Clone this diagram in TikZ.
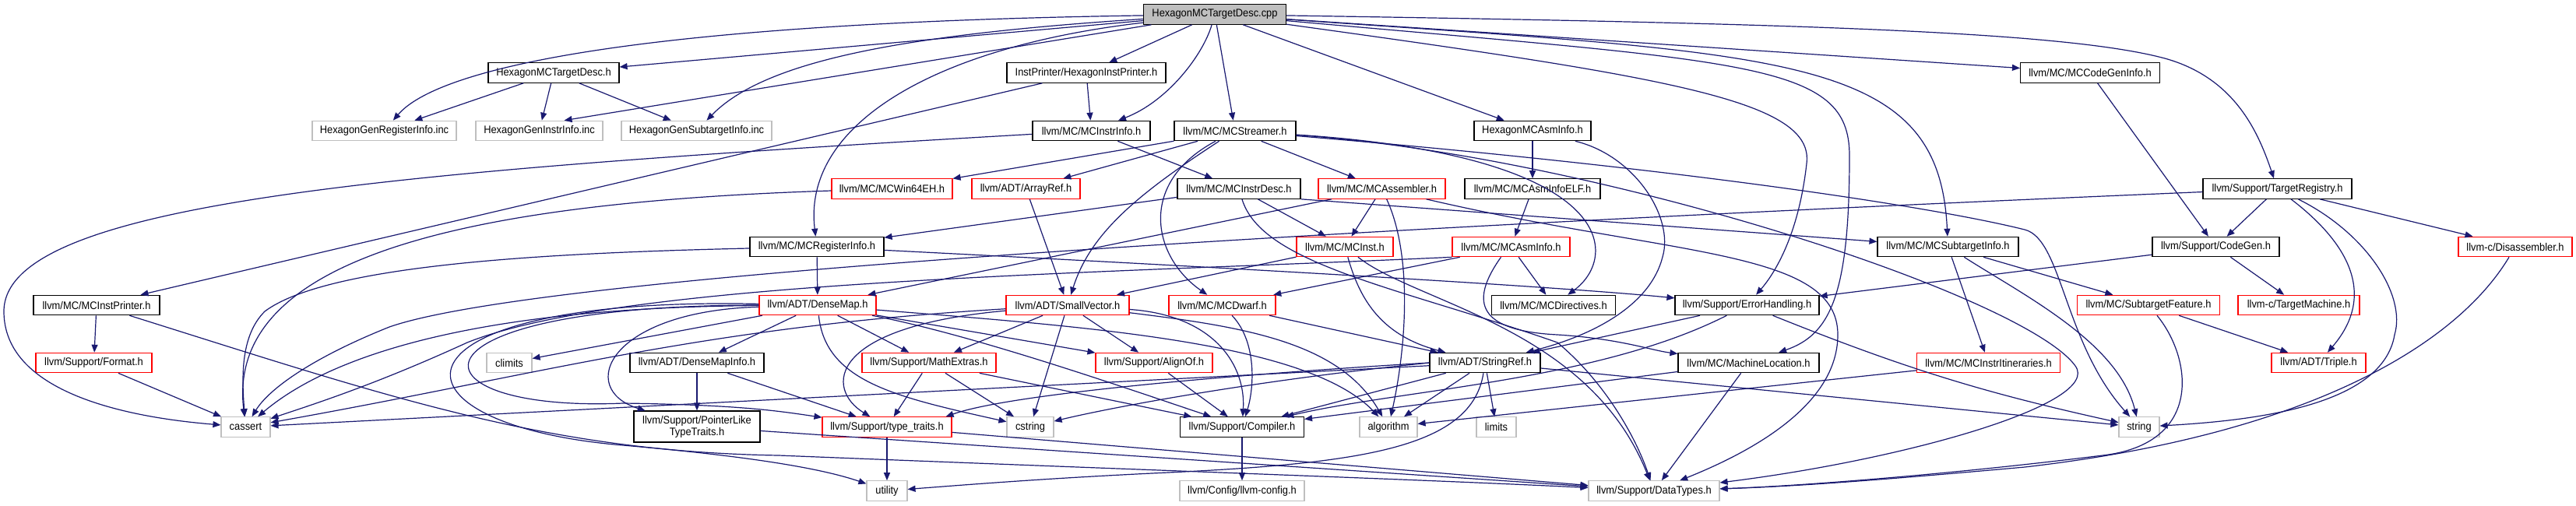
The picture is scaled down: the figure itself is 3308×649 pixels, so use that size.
\documentclass[tikz,border=0pt]{standalone}
\usepackage{fontspec}
\setmainfont{Liberation Sans}[FakeStretch=0.92]
\usetikzlibrary{arrows.meta}
\definecolor{edgeblue}{HTML}{191970}
\definecolor{graybd}{HTML}{BFBFBF}
\begin{document}
\begin{tikzpicture}[x=1pt,y=-1pt,
  box/.style={draw=black, line width=1.1pt, fill=white, minimum height=25.5pt, inner xsep=2pt, inner ysep=0pt, font=\fontsize{14}{15}\selectfont},
  redbox/.style={box, draw=red},
  graybox/.style={box, draw=graybd},
  edge/.style={draw=edgeblue, line width=1.2pt, -{Triangle[length=10pt,width=8pt]}}
]
\fill[white] (0,0) rectangle (3308,649);
\useasboundingbox (0,0) rectangle (3308,649);

% row 0
\node[box, fill=graybd, minimum width=183pt] (cpp) at (1560,18.5) {HexagonMCTargetDesc.cpp};
% row 1
\node[box, minimum width=168pt] (HexMCTDh) at (711,93.5) {HexagonMCTargetDesc.h};
\node[box, minimum width=204pt] (InstPrinter) at (1395,93.5) {InstPrinter/HexagonInstPrinter.h};
\node[box, minimum width=179pt] (MCCodeGenInfo) at (2684,93.5) {llvm/MC/MCCodeGenInfo.h};
% row 2
\node[graybox, minimum width=185pt] (GenReg) at (493.5,168) {HexagonGenRegisterInfo.inc};
\node[graybox, minimum width=163pt] (GenInstr) at (692.5,168) {HexagonGenInstrInfo.inc};
\node[graybox, minimum width=193pt] (GenSub) at (894.5,168) {HexagonGenSubtargetInfo.inc};
\node[box, minimum width=151pt] (MCInstrInfo) at (1401.5,168) {llvm/MC/MCInstrInfo.h};
\node[box, minimum width=156pt] (MCStreamer) at (1586,168) {llvm/MC/MCStreamer.h};
\node[box, minimum width=150pt] (HexMCAsmInfo) at (1968,168) {HexagonMCAsmInfo.h};
% row 3
\node[redbox, minimum width=155pt] (MCWin64EH) at (1145.5,242.5) {llvm/MC/MCWin64EH.h};
\node[redbox, minimum width=139pt] (ArrayRef) at (1317.5,242.5) {llvm/ADT/ArrayRef.h};
\node[box, minimum width=158pt] (MCInstrDesc) at (1591,242.5) {llvm/MC/MCInstrDesc.h};
\node[redbox, minimum width=163pt] (MCAssembler) at (1774.5,242.5) {llvm/MC/MCAssembler.h};
\node[box, minimum width=174pt] (MCAsmInfoELF) at (1968,242.5) {llvm/MC/MCAsmInfoELF.h};
\node[box, minimum width=191pt] (TargetRegistry) at (2924.5,242.5) {llvm/Support/TargetRegistry.h};
% row 4
\node[box, minimum width=172pt] (MCRegisterInfo) at (1049,317) {llvm/MC/MCRegisterInfo.h};
\node[redbox, minimum width=124pt] (MCInst) at (1727,317) {llvm/MC/MCInst.h};
\node[redbox, minimum width=151pt] (MCAsmInfo) at (1940.5,317) {llvm/MC/MCAsmInfo.h};
\node[box, minimum width=181pt] (MCSubtargetInfo) at (2501.5,317) {llvm/MC/MCSubtargetInfo.h};
\node[box, minimum width=163pt] (CodeGen) at (2845.5,317) {llvm/Support/CodeGen.h};
\node[redbox, minimum width=146pt] (Disassembler) at (3230,317) {llvm-c/Disassembler.h};
% row 5
\node[box, minimum width=162pt] (MCInstPrinter) at (124,392) {llvm/MC/MCInstPrinter.h};
\node[redbox, minimum width=150pt] (DenseMap) at (1050,392) {llvm/ADT/DenseMap.h};
\node[redbox, minimum width=158pt] (SmallVector) at (1371,392) {llvm/ADT/SmallVector.h};
\node[redbox, minimum width=137pt] (MCDwarf) at (1569.5,392) {llvm/MC/MCDwarf.h};
\node[box, minimum width=159pt] (MCDirectives) at (1995,392) {llvm/MC/MCDirectives.h};
\node[box, minimum width=185pt] (ErrorHandling) at (2243.5,392) {llvm/Support/ErrorHandling.h};
\node[redbox, minimum width=183pt] (SubtargetFeature) at (2759,392) {llvm/MC/SubtargetFeature.h};
\node[redbox, minimum width=156pt] (TargetMachine) at (2952,392) {llvm-c/TargetMachine.h};
% row 6
\node[redbox, minimum width=149pt] (Format) at (120.5,466) {llvm/Support/Format.h};
\node[graybox, minimum width=58pt] (climits) at (654,466) {climits};
\node[box, minimum width=172pt] (DenseMapInfo) at (895,466) {llvm/ADT/DenseMapInfo.h};
\node[redbox, minimum width=172pt] (MathExtras) at (1193,466) {llvm/Support/MathExtras.h};
\node[redbox, minimum width=150pt] (AlignOf) at (1482,466) {llvm/Support/AlignOf.h};
\node[box, minimum width=142pt] (StringRef) at (1907,466) {llvm/ADT/StringRef.h};
\node[box, minimum width=181pt] (MachineLocation) at (2245.5,466) {llvm/MC/MachineLocation.h};
\node[redbox, minimum width=184pt] (MCInstrItineraries) at (2553.5,466) {llvm/MC/MCInstrItineraries.h};
\node[redbox, minimum width=121pt] (Triple) at (2977.5,466) {llvm/ADT/Triple.h};
% row 7
\node[graybox, minimum width=63pt] (cassert) at (315.5,548.5) {cassert};
\node[box, minimum width=162pt, minimum height=40pt, align=center] (PointerLike) at (895,548) {llvm/Support/PointerLike\\TypeTraits.h};
\node[redbox, minimum width=166pt] (typetraits) at (1139,548.5) {llvm/Support/type\_traits.h};
\node[graybox, minimum width=60pt] (cstring) at (1323,548.5) {cstring};
\node[box, minimum width=159pt] (Compiler) at (1595,548.5) {llvm/Support/Compiler.h};
\node[graybox, minimum width=74pt] (algorithm) at (1783,548.5) {algorithm};
\node[graybox, minimum width=51pt] (limits) at (1921.5,548.5) {limits};
\node[graybox, minimum width=52pt] (string) at (2747,548.5) {string};
% row 8
\node[graybox, minimum width=52pt] (utility) at (1139,630.5) {utility};
\node[graybox, minimum width=160pt] (llvmconfig) at (1595,630.5) {llvm/Config/llvm-config.h};
\node[graybox, minimum width=168pt] (DataTypes) at (2124,630.5) {llvm/Support/DataTypes.h};

% ---- edges from cpp
\draw[edge] (cpp) -- (HexMCTDh);
\draw[edge] (cpp) .. controls (800,30) and (560,90) .. (GenReg);
\draw[edge] (cpp) -- ([xshift=32pt]GenInstr.north);
\draw[edge] (cpp) .. controls (1150,45) and (980,80) .. (GenSub);
\draw[edge] (cpp) -- (InstPrinter);
\draw[edge] (cpp) .. controls (1545,70) and (1500,130) .. (MCInstrInfo);
\draw[edge] (cpp) -- (MCStreamer);
\draw[edge] (cpp) .. controls (1200,60) and (1030,160) .. (MCRegisterInfo);
\draw[edge] (cpp) -- (HexMCAsmInfo);
\draw[edge] (cpp) -- (MCCodeGenInfo);
\draw[edge] (cpp) .. controls (2300,30) and (2650,40) .. (2780,75) .. controls (2870,100) and (2900,170) .. (TargetRegistry);
\draw[edge] (cpp) .. controls (2300,70) and (2490,70) .. (MCSubtargetInfo);
\draw[edge] (cpp) .. controls (2250,80) and (2375,80) .. (2375,200) .. controls (2375,380) and (2350,430) .. (MachineLocation);
\draw[edge] (cpp) .. controls (2150,100) and (2330,130) .. (2320,210) .. controls (2310,300) and (2280,350) .. (ErrorHandling);

% ---- HexagonMCTargetDesc.h
\draw[edge] (HexMCTDh) -- (GenReg);
\draw[edge] (HexMCTDh) -- (GenInstr);
\draw[edge] (HexMCTDh) -- (GenSub);

% ---- InstPrinter
\draw[edge] (InstPrinter) -- (MCInstPrinter);
\draw[edge] (InstPrinter) -- (MCInstrInfo);

% ---- MCInstrInfo
\draw[edge] (MCInstrInfo) -- (MCInstrDesc);
\draw[edge] (MCInstrInfo) .. controls (500,220) and (5,260) .. (5,400) .. controls (5,500) and (150,535) .. (cassert);

% ---- MCStreamer
\draw[edge] (MCStreamer) -- (MCWin64EH);
\draw[edge] (MCStreamer) -- (ArrayRef);
\draw[edge] (MCStreamer) .. controls (1460,250) and (1400,300) .. (SmallVector);
\draw[edge] (MCStreamer) .. controls (1460,235) and (1480,330) .. (MCDwarf);
\draw[edge] (MCStreamer) -- (MCAssembler);
\draw[edge] (MCStreamer) .. controls (2080,200) and (2080,330) .. (MCDirectives);
\draw[edge] (MCStreamer) .. controls (2050,200) and (2600,380) .. (2665,470) .. controls (2700,518) and (2450,590) .. (DataTypes);
\draw[edge] (MCStreamer) .. controls (2150,215) and (2480,265) .. (2600,295) .. controls (2648,307) and (2650,440) .. (string);

% ---- HexagonMCAsmInfo.h
\draw[edge] (HexMCAsmInfo) -- (MCAsmInfoELF);
\draw[edge] (HexMCAsmInfo) .. controls (2100,200) and (2150,280) .. (2135,330) .. controls (2120,390) and (2050,430) .. (StringRef);

% ---- MCCodeGenInfo / TargetRegistry
\draw[edge] (MCCodeGenInfo) -- (CodeGen);
\draw[edge] (TargetRegistry) -- (CodeGen);
\draw[edge] (TargetRegistry) -- (Disassembler);
\draw[edge] (TargetRegistry) .. controls (3000,300) and (3060,370) .. (Triple);
\draw[edge] (TargetRegistry) .. controls (3040,300) and (3090,380) .. (3075,430) .. controls (3060,520) and (2900,540) .. (string);
\draw[edge] (TargetRegistry) .. controls (1800,290) and (700,350) .. (500,420) .. controls (400,460) and (345,500) .. (cassert);

% ---- row 3
\draw[edge] (MCWin64EH) .. controls (600,260) and (290,330) .. (cassert);
\draw[edge] (ArrayRef) -- (SmallVector);
\draw[edge] (MCInstrDesc) -- (MCRegisterInfo);
\draw[edge] (MCInstrDesc) -- (MCInst);
\draw[edge] (MCInstrDesc.south east) -- (MCSubtargetInfo);
\draw[edge] (MCInstrDesc) .. controls (1620,340) and (1800,370) .. (2000,440) .. controls (2060,490) and (2100,560) .. (DataTypes);
\draw[edge] (MCAssembler) -- (DenseMap);
\draw[edge] (MCAssembler) -- (MCInst);
\draw[edge] (MCAssembler) .. controls (1815,330) and (1805,450) .. (algorithm);
\draw[edge] (MCAssembler) .. controls (2150,330) and (2360,320) .. (2360,430) .. controls (2360,520) and (2250,580) .. (DataTypes);
\draw[edge] (MCAsmInfoELF) -- (MCAsmInfo);

% ---- row 4
\draw[edge] (MCRegisterInfo) -- (DenseMap);
\draw[edge] (MCRegisterInfo) .. controls (1600,345) and (2000,368) .. (ErrorHandling);
\draw[edge] (MCRegisterInfo) .. controls (700,325) and (420,340) .. (340,400) .. controls (310,430) and (310,480) .. (cassert);
\draw[edge] (MCInst) -- (SmallVector);
\draw[edge] (MCInst) .. controls (1745,380) and (1770,430) .. (StringRef);
\draw[edge] (MCInst) .. controls (1820,390) and (2040,420) .. (DataTypes);
\draw[edge] (MCAsmInfo) -- (MCDwarf);
\draw[edge] (MCAsmInfo) -- (MCDirectives);
\draw[edge] ([xshift=-13pt]MCAsmInfo.south) .. controls (1885,390) and (1900,425) .. (2000,430) .. controls (2080,435) and (2120,450) .. (MachineLocation);
\draw[edge] (MCAsmInfo.south west) .. controls (1400,352) and (800,360) .. (600,440) .. controls (480,495) and (400,520) .. (cassert);
\draw[edge] (MCSubtargetInfo) -- (SubtargetFeature);
\draw[edge] (MCSubtargetInfo) -- (MCInstrItineraries);
\draw[edge] (MCSubtargetInfo) .. controls (2600,380) and (2720,440) .. (string);
\draw[edge] (CodeGen) -- (TargetMachine);
\draw[edge] (CodeGen) -- (ErrorHandling);
\draw[edge] (Disassembler) .. controls (3150,450) and (2950,560) .. (2600,600) .. controls (2400,618) and (2300,625) .. (DataTypes);

% ---- row 5
\draw[edge] (MCInstPrinter) -- (Format);
\draw[edge] (MCInstPrinter) .. controls (500,510) and (700,580) .. (1000,585) .. controls (1500,605) and (1800,615) .. (DataTypes);
\draw[edge] (DenseMap) -- (climits);
\draw[edge] (DenseMap) -- (DenseMapInfo);
\draw[edge] (DenseMap) -- (MathExtras);
\draw[edge] (DenseMap) -- (AlignOf);
\draw[edge] (DenseMap) .. controls (500,392) and (520,530) .. (800,518) .. controls (950,520) and (1000,528) .. (typetraits);
\draw[edge] (DenseMap) .. controls (780,400) and (740,500) .. (PointerLike);
\draw[edge] (DenseMap) .. controls (480,380) and (480,545) .. (800,572) .. controls (950,585) and (1050,600) .. (utility);
\draw[edge] (DenseMap) .. controls (600,395) and (420,460) .. (cassert);
\draw[edge] (DenseMap) .. controls (1060,490) and (1150,510) .. (cstring);
\draw[edge] (DenseMap) .. controls (1250,430) and (1450,500) .. (Compiler);
\draw[edge] (DenseMap) .. controls (1400,420) and (1680,440) .. (algorithm);
\draw[edge] (SmallVector) -- (MathExtras);
\draw[edge] (SmallVector) -- (AlignOf);
\draw[edge] (SmallVector) -- (cstring);
\draw[edge] (SmallVector) .. controls (1560,405) and (1600,470) .. (Compiler);
\draw[edge] (SmallVector) .. controls (1060,420) and (1060,500) .. (typetraits);
\draw[edge] (SmallVector) .. controls (900,420) and (700,480) .. (cassert);
\draw[edge] (SmallVector) .. controls (1600,420) and (1720,440) .. (algorithm);
\draw[edge] (MCDwarf) -- (StringRef);
\draw[edge] (MCDwarf) .. controls (1615,440) and (1610,500) .. (Compiler);
\draw[edge] (ErrorHandling) -- (StringRef);
\draw[edge] (ErrorHandling) .. controls (2050,490) and (1800,500) .. (Compiler);
\draw[edge] (ErrorHandling) .. controls (2450,475) and (2550,505) .. (string);
\draw[edge] (SubtargetFeature) -- (Triple);
\draw[edge] (SubtargetFeature) .. controls (2815,460) and (2830,570) .. (2700,585) .. controls (2500,610) and (2300,625) .. (DataTypes);

% ---- row 6
\draw[edge] (Format) -- (cassert);
\draw[edge] (DenseMapInfo) -- (PointerLike);
\draw[edge] (DenseMapInfo) -- (typetraits);
\draw[edge] (MathExtras) -- (typetraits);
\draw[edge] (MathExtras) -- (cstring);
\draw[edge] (MathExtras) -- (Compiler);
\draw[edge] (AlignOf) -- (Compiler);
\draw[edge] (StringRef) -- (algorithm);
\draw[edge] (StringRef) -- (limits);
\draw[edge] (StringRef) -- (Compiler);
\draw[edge] (StringRef) -- (string);
\draw[edge] (StringRef) -- (cassert);
\draw[edge] (StringRef.west) .. controls (1600,480) and (1300,505) .. ([xshift=-8pt]typetraits.north east);
\draw[edge] (StringRef.west) .. controls (1600,490) and (1420,525) .. (cstring);
\draw[edge] (StringRef) .. controls (1890,575) and (1750,595) .. (1500,607) .. controls (1350,614) and (1250,622) .. (utility);
\draw[edge] (MachineLocation) -- (Compiler);
\draw[edge] (MachineLocation) -- (DataTypes);
\draw[edge] (MCInstrItineraries) -- (algorithm);

% ---- row 7
\draw[edge] (PointerLike) -- (DataTypes);
\draw[edge] (typetraits) -- (utility);
\draw[edge] (typetraits) -- (DataTypes);
\draw[edge] (Compiler) -- (llvmconfig);
\end{tikzpicture}
\end{document}
